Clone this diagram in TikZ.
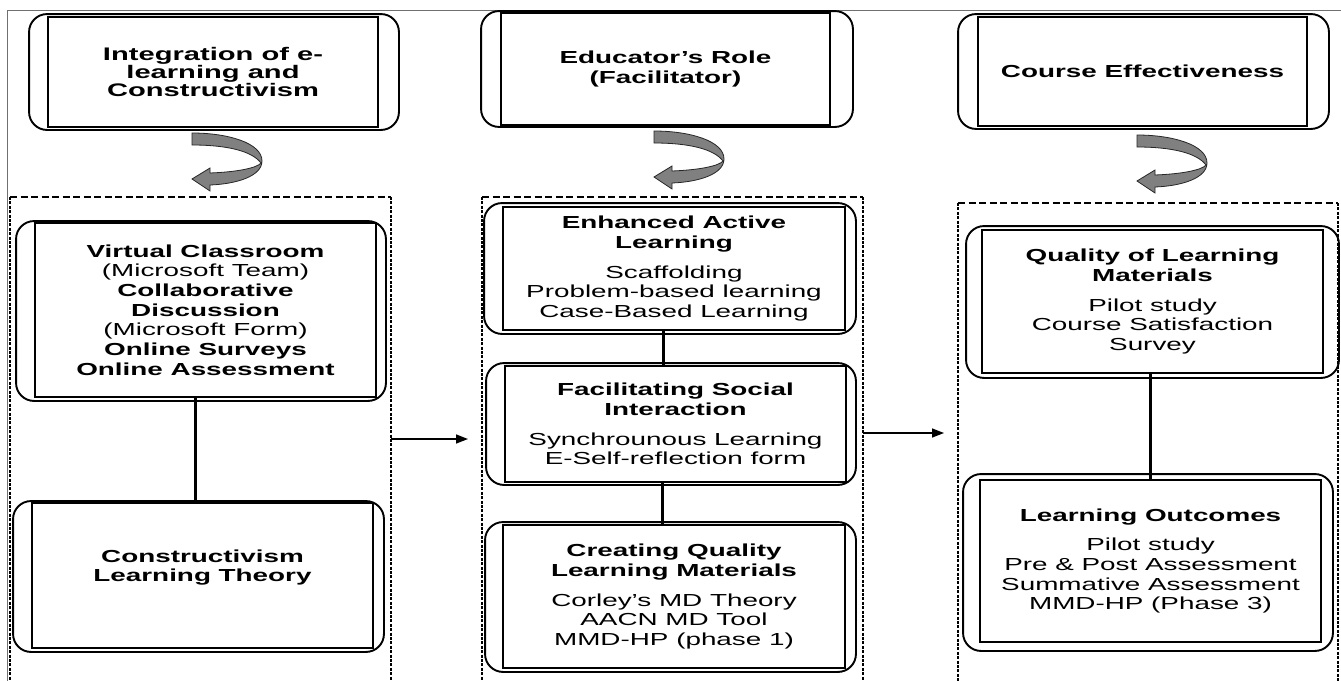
\documentclass[tikz,border=0pt]{standalone}
\usepackage{fontspec}
\setmainfont{Liberation Sans}[FakeStretch=1.6]
\usetikzlibrary{arrows.meta}

\definecolor{ribbongray}{HTML}{808080}
\definecolor{framegray}{HTML}{707070}

% rounded outer rim around a process box: node, left, right, top, bottom offsets
\newcommand\procrim[5]{%
  \draw[rimline] ([xshift=-#2pt,yshift=#4pt]#1.north west) rectangle ([xshift=#3pt,yshift=-#5pt]#1.south east);}

\tikzset{
  procbox/.style={draw, line width=1.9pt, rectangle, inner sep=0pt, align=center,
                  font=\fontsize{17.4}{19.7}\selectfont},
  rimline/.style={draw, line width=1.9pt, rounded corners=18pt},
  link/.style={line width=3pt},
  flow/.style={line width=1.5pt, -{Triangle[length=12pt,width=9pt]}},
  contop/.style={line width=1.6pt, dash pattern=on 7pt off 3.5pt},
  conside/.style={line width=2.5pt, dash pattern=on 3pt off 1.4pt},
  frameline/.style={framegray, line width=1pt},
  turnarrow/.pic={
    \filldraw[fill=ribbongray, draw=black!85, line width=0.8pt]
      (0,0) .. controls (36,0) and (70,10) .. (70,28)
      .. controls (70,43) and (45,51) .. (18,52)
      -- (18,58) -- (0,46) -- (18,35) -- (18,40)
      .. controls (45,39) and (65,35) .. (69,30)
      .. controls (60,18) and (35,12) .. (0,12) -- cycle;
  }
}

\begin{document}
\begin{tikzpicture}[x=1pt,y=-1pt]
\useasboundingbox (0,0) rectangle (1341,680);
\fill[white] (0,0) rectangle (1341,680);
\clip (0,0) rectangle (1341,680);

% page frame
\draw[frameline] (7,690) -- (7,10) -- (1345,10);

% column containers
\draw[contop] (10,197) -- (391,197);
\draw[conside] (10,197) -- (10,690);
\draw[conside] (391,197) -- (391,690);
\draw[contop] (482,197) -- (863,197);
\draw[conside] (482,197) -- (482,690);
\draw[conside] (863,197) -- (863,690);
\draw[contop] (958,203) -- (1338,203);
\draw[conside] (958,203) -- (958,690);
\draw[conside] (1338,203) -- (1338,690);

% top headings
\node[procbox, minimum width=330pt, minimum height=110pt,
      font=\fontsize{18.2}{18}\selectfont\bfseries] (t1) at (213,72)
  {Integration of e-\\learning and\\Constructivism};
\procrim{t1}{18}{20}{2}{2}
\node[procbox, minimum width=329pt, minimum height=112pt,
      font=\fontsize{17.4}{20.5}\selectfont\bfseries] (t2) at (665.5,69)
  {Educator's Role\\(Facilitator)};
\procrim{t2}{19}{22}{1}{1}
\node[procbox, minimum width=329pt, minimum height=109pt,
      font=\fontsize{17.4}{19.7}\selectfont\bfseries] (t3) at (1142.5,71.5)
  {Course Effectiveness};
\procrim{t3}{19}{21}{2}{2}

% turning arrows below the headings
\pic at (192,133) {turnarrow};
\pic at (654,131) {turnarrow};
\pic at (1137,135) {turnarrow};

% first column
\node[procbox, minimum width=341pt, minimum height=174pt] (a) at (205.5,310)
  {\textbf{Virtual Classroom}\\(Microsoft Team)\\\textbf{Collaborative}\\\textbf{Discussion}\\(Microsoft Form)\\\textbf{Online Surveys}\\\textbf{Online Assessment}};
\procrim{a}{18}{9}{1}{3}
\node[procbox, minimum width=341pt, minimum height=145pt, font=\fontsize{17.4}{19.7}\selectfont\bfseries] (b) at (202.5,575.5)
  {Constructivism\\Learning Theory\\\mbox{}};
\procrim{b}{18}{10}{1}{3}
\draw[link] ([xshift=-10.5pt]a.south) -- ([xshift=-10.5pt]a.south |- b.north);

% second column
\node[procbox, minimum width=342pt, minimum height=123pt] (c) at (674,268.5)
  {\textbf{Enhanced Active}\\\textbf{Learning}\\[10pt]Scaffolding\\Problem-based learning\\Case-Based Learning};
\procrim{c}{18}{10}{3}{3}
\node[procbox, minimum width=341pt, minimum height=116pt] (d) at (675.5,424)
  {\textbf{Facilitating Social}\\\textbf{Interaction}\\[10pt]Synchrounous Learning\\E-Self-reflection form};
\procrim{d}{18}{9}{2}{2}
\node[procbox, minimum width=342pt, minimum height=143pt] (e) at (674,596.5)
  {\textbf{Creating Quality}\\\textbf{Learning Materials}\\[10pt]Corley's MD Theory\\AACN MD Tool\\MMD-HP (phase 1)};
\procrim{e}{17}{10}{2}{3}
\draw[link] ([xshift=-11pt]c.south) -- ([xshift=-11pt]c.south |- d.north);
\draw[link] ([xshift=-13.5pt]d.south) -- ([xshift=-13.5pt]d.south |- e.north);

% third column
\node[procbox, minimum width=341pt, minimum height=143pt] (f) at (1152.5,301.5)
  {\textbf{Quality of Learning}\\\textbf{Materials}\\[10pt]Pilot study\\Course Satisfaction\\Survey};
\procrim{f}{15}{15}{3}{4}
\node[procbox, minimum width=341pt, minimum height=162pt] (g) at (1150.5,561)
  {\textbf{Learning Outcomes}\\[10pt]Pilot study\\Pre \& Post Assessment\\Summative Assessment\\MMD-HP (Phase 3)};
\procrim{g}{16}{11}{5}{8}
\draw[link] ([xshift=-2.5pt]f.south) -- ([xshift=-2.5pt]f.south |- g.north);

% flow between columns
\coordinate (h1s) at (391,439);
\coordinate (h1e) at (468,439);
\coordinate (h2s) at (863,433);
\coordinate (h2e) at (944,433);
\draw[flow] (h1s) -- (h1e);
\draw[flow] (h2s) -- (h2e);
\end{tikzpicture}
\end{document}
